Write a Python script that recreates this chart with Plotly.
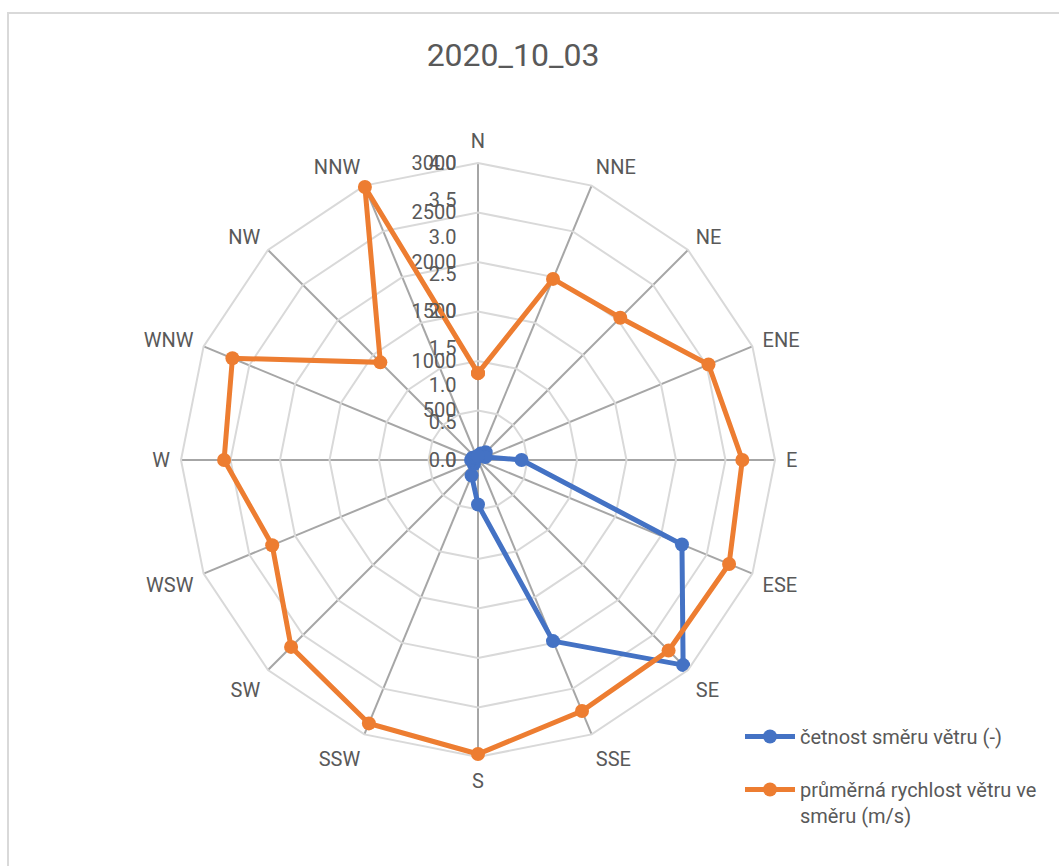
import plotly.graph_objects as go

directions = ["N", "NNE", "NE", "ENE", "E", "ESE", "SE", "SSE",
              "S", "SSW", "SW", "WSW", "W", "WNW", "NW", "NNW"]
frequency = [40, 70, 110, 80, 440, 2230, 2930, 1980,
             450, 170, 60, 50, 70, 60, 40, 30]
speed = [1.17, 2.64, 2.71, 3.36, 3.56, 3.66, 3.63, 3.66,
         3.96, 3.84, 3.56, 3.00, 3.42, 3.58, 1.86, 3.98]
freq_ticks = [0, 500, 1000, 1500, 2000, 2500, 3000]
speed_ticks = [0.0, 0.5, 1.0, 1.5, 2.0, 2.5, 3.0, 3.5, 4.0]

title_text = "2020_10_03"
name_freq = "četnost směru větru (-)"
name_speed = "průměrná rychlost větru ve<br>směru (m/s)"

BLUE = "#4472C4"
ORANGE = "#ED7D31"
TXT = "#595959"
FONT = "Roboto"

W, H = 1059, 866
cx, cy, R = 478, 460, 297
dom_x = [(cx - R) / W, (cx + R) / W]
dom_y = [1 - (cy + R) / H, 1 - (cy - R) / H]

theta = directions + directions[:1]

fig = go.Figure()
fig.add_trace(go.Scatterpolar(
    r=frequency + frequency[:1], theta=theta, mode="lines+markers",
    name=name_freq, subplot="polar", legendgroup="a",
    line=dict(color=BLUE, width=5), marker=dict(color=BLUE, size=14)))
fig.add_trace(go.Scatterpolar(
    r=speed + speed[:1], theta=theta, mode="lines+markers",
    name=name_speed, subplot="polar2", legendgroup="b",
    line=dict(color=ORANGE, width=5), marker=dict(color=ORANGE, size=14)))

common_ang = dict(type="category", categoryarray=directions, direction="clockwise",
                  rotation=90)

fig.update_layout(
    width=W, height=H,
    margin=dict(l=0, r=0, t=0, b=0),
    paper_bgcolor="white",
    font=dict(family=FONT, color=TXT, size=20),
    title=dict(text=title_text, x=513 / W, xanchor="center", y=1 - 55 / H, yanchor="middle",
               font=dict(family=FONT, size=32, color=TXT)),
    polar=dict(
        domain=dict(x=dom_x, y=dom_y), bgcolor="white", gridshape="linear",
        angularaxis=dict(**common_ang, showgrid=True, gridcolor="#A6A6A6", gridwidth=2,
                         showline=True, linecolor="#D9D9D9", linewidth=2,
                         ticks="outside", ticklen=6, tickcolor="rgba(0,0,0,0)",
                         tickfont=dict(family=FONT, size=20, color=TXT)),
        radialaxis=dict(range=[0, 3000], tickvals=freq_ticks, angle=90, tickangle=90,
                        side="counterclockwise",
                        showgrid=True, gridcolor="#D9D9D9", gridwidth=2, showline=False,
                        ticks="outside", ticklen=14, tickcolor="rgba(0,0,0,0)",
                        tickfont=dict(family=FONT, size=20, color=TXT)),
    ),
    polar2=dict(
        domain=dict(x=dom_x, y=dom_y), bgcolor="rgba(0,0,0,0)", gridshape="linear",
        angularaxis=dict(**common_ang, showgrid=False, showline=False, showticklabels=False,
                         ticks=""),
        radialaxis=dict(range=[0, 4], tickvals=speed_ticks, tickformat=".1f", angle=90,
                        tickangle=90, side="counterclockwise", showgrid=False, showline=False,
                        ticks="outside", ticklen=14, tickcolor="rgba(0,0,0,0)",
                        tickfont=dict(family=FONT, size=20, color=TXT)),
    ),
    legend=dict(x=740 / W, xanchor="left", y=1 - 717 / H, yanchor="top",
                font=dict(family=FONT, size=20, color=TXT), valign="top",
                itemwidth=50, tracegroupgap=24, bgcolor="rgba(0,0,0,0)"),
    shapes=[dict(type="rect", xref="paper", yref="paper",
                 x0=8 / W, x1=1.05, y0=-0.05, y1=1 - 13 / H,
                 line=dict(color="#D9D9D9", width=2), fillcolor="rgba(0,0,0,0)",
                 layer="below")],
)

fig.write_html("out.html", config={"displayModeBar": False},
               post_script="document.body.style.margin='0';")
